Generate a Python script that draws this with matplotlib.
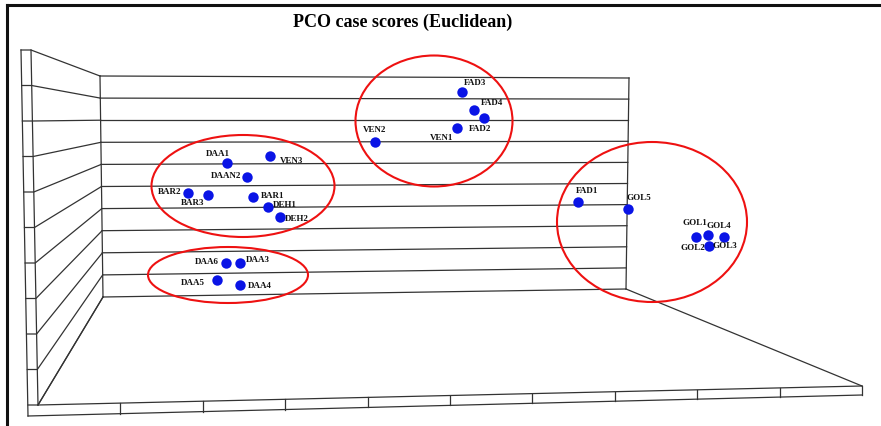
import numpy as np
import matplotlib.pyplot as plt
from matplotlib.patches import Ellipse

# 样本得分 (画面像素坐标读取)
labels = ["DAA1", "VEN3", "DAAN2", "BAR2", "BAR3", "BAR1", "DEH1", "DEH2",
          "DAA6", "DAA3", "DAA5", "DAA4",
          "FAD3", "FAD4", "FAD2", "VEN1", "VEN2",
          "FAD1", "GOL5", "GOL1", "GOL4", "GOL2", "GOL3"]
xs = [227, 270, 247, 188, 208, 253, 268, 280,
      226, 240, 217, 240,
      462, 474, 484, 457, 375,
      578, 628, 696, 708, 709, 724]
ys = [163, 156, 177, 193, 195, 197, 207, 217,
      263, 263, 280, 285,
      92, 110, 118, 128, 142,
      202, 209, 237, 235, 246, 237]
# 标签偏移 (像素)
label_dx = [-9, 22, -21, -18, -15, 20, 17, 17,
            -19, 18, -24, 20,
            13, 18, -4, -15, 0,
            9, 11, -1, 11, -16, 1]
label_dy = [-9, 5, -1, -1, 8, -1, -2, 2,
            -1, -3, 3, 1,
            -9, -7, 11, 10, -12,
            -11, -11, -14, -9, 2, 9]

# 分组椭圆: 中心, 宽, 高
ell_cx = [243, 228, 434, 652]
ell_cy = [186, 275, 121, 222]
ell_w = [183, 160, 157, 190]
ell_h = [102, 56, 131, 160]

W, H = 881, 426
fig = plt.figure(figsize=(W / 100, H / 100), dpi=100)
ax = fig.add_axes([0, 0, 1, 1])
ax.set_xlim(0, W)
ax.set_ylim(H, 0)
ax.axis("off")

lc = "#333333"
lw = 0.9
n = 10

# 外框
ax.plot([7, 7], [5, H], color="#111111", lw=2.2)
ax.plot([7, W], [5, 5], color="#111111", lw=2.2)

# 后墙
yl = np.linspace(76, 297, n + 1)
yr = np.linspace(78, 289, n + 1)
xl = np.linspace(100, 103, n + 1)
xr = np.linspace(629, 626, n + 1)
for i in range(n + 1):
    ax.plot([xl[i], xr[i]], [yl[i], yr[i]], color=lc, lw=lw)
ax.plot([100, 103], [76, 297], color=lc, lw=lw)
ax.plot([629, 626], [78, 289], color=lc, lw=lw)

# 左墙
yf = np.linspace(50, 405, n + 1)
xo = np.linspace(21, 28, n + 1)
xi = np.linspace(31, 38, n + 1)
for i in range(n + 1):
    ax.plot([xo[i], xi[i], xl[i]], [yf[i], yf[i], yl[i]], color=lc, lw=lw)
ax.plot([21, 28], [50, 416], color=lc, lw=lw)
ax.plot([31, 38], [50, 405], color=lc, lw=lw)

# 地面
ax.plot([103, 38], [297, 405], color=lc, lw=lw)
ax.plot([626, 862], [289, 386], color=lc, lw=lw)
ax.plot([38, 862], [405, 386], color=lc, lw=lw)
ax.plot([28, 862], [416, 395], color=lc, lw=lw)
ax.plot([862, 862], [386, 395], color=lc, lw=lw)
for t in np.linspace(38, 862, n + 1)[1:-1]:
    y_in = 405 + (t - 38) / (862 - 38) * (386 - 405)
    y_out = 416 + (t - 28) / (862 - 28) * (395 - 416)
    ax.plot([t, t], [y_in, y_out], color=lc, lw=lw)

# 椭圆
for cx, cy, w, h in zip(ell_cx, ell_cy, ell_w, ell_h):
    ax.add_patch(Ellipse((cx, cy), w, h, fill=False, edgecolor="#ee1111", lw=1.5, zorder=3))

# 点与标签
ax.plot(xs, ys, "o", color="#0a14e6", markersize=7.5, markeredgewidth=0, zorder=4)
for lab, x, y, dx, dy in zip(labels, xs, ys, label_dx, label_dy):
    ax.text(x + dx, y + dy, lab, ha="center", va="center", fontsize=6.5,
            family="Liberation Serif", weight="bold", color="#111111", zorder=5)

ax.text(403, 22, "PCO case scores (Euclidean)", ha="center", va="center",
        fontsize=13, family="Liberation Serif", weight="bold")

fig.savefig("out.png", dpi=100)
